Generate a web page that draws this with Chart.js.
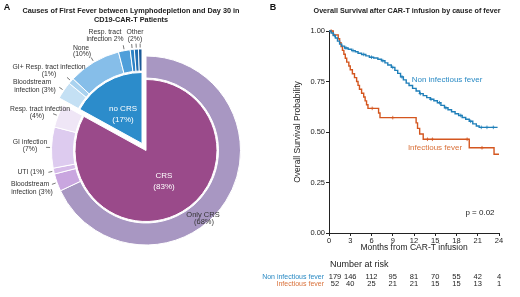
<!DOCTYPE html>
<html>
<head>
<meta charset="utf-8">
<script src="https://cdn.jsdelivr.net/npm/chart.js@4.4.0/dist/chart.umd.min.js"></script>
<style>
html, body { margin: 0; padding: 0; background: #fff; overflow: hidden; }
#wrap { position: relative; width: 520px; height: 297px; }
canvas { position: absolute; top: 0; }
</style>
</head>
<body>
<div id="wrap">
  <canvas id="pieBase" width="260" height="297" style="left:0"></canvas>
  <canvas id="pieTop" width="260" height="297" style="left:0"></canvas>
  <canvas id="km" width="260" height="297" style="left:260px"></canvas>
</div>
<script>
// ---- panel A data ----
var innerLabels = ['CRS', 'no CRS'];
var innerValues = [83, 17];
var innerGroup = [0, 1];           // 0 = CRS, 1 = no CRS
var outerLabels = ['Only CRS', 'Bloodstream infection', 'UTI', 'GI infection', 'Resp. tract infection',
                   'Bloodstream infection', 'GI+ Resp. tract infection', 'None', 'Resp. tract infection',
                   'Other', 'Other', 'Other'];
var outerValues = [68, 3, 1, 7, 4, 3, 1, 9, 2, 0.7, 0.7, 0.6];
var outerGroup = [0, 0, 0, 0, 0, 1, 1, 1, 1, 1, 1, 1];

// ---- panel B data ----
var nonInfTime = [0, 0.3, 0.6, 0.9, 1.2, 1.5, 1.8, 2.2, 2.7, 3.2, 3.7, 4.1, 4.6, 5.2, 5.7, 6.3, 6.9, 7.4, 7.9, 8.3,
                  8.8, 9.3, 9.7, 10.1, 10.5, 10.9, 11.3, 11.8, 12.3, 12.8, 13.3, 13.8, 14.3, 14.8, 15.3, 15.8, 16.3,
                  16.8, 17.3, 17.8, 18.3, 18.8, 19.3, 19.8, 20.3, 20.8, 21.2, 23.8];
var nonInfSurv = [1, 0.99, 0.978, 0.965, 0.95, 0.935, 0.925, 0.916, 0.91, 0.903, 0.897, 0.89, 0.884, 0.877, 0.87,
                  0.866, 0.86, 0.853, 0.842, 0.832, 0.82, 0.805, 0.79, 0.773, 0.758, 0.742, 0.73, 0.716, 0.703, 0.69,
                  0.68, 0.67, 0.662, 0.655, 0.645, 0.632, 0.62, 0.61, 0.6, 0.59, 0.582, 0.572, 0.563, 0.553, 0.54,
                  0.53, 0.523, 0.523];
var infTime = [0, 0.6, 1.3, 1.5, 1.7, 1.9, 2.1, 2.3, 2.5, 2.8, 3.0, 3.3, 3.6, 3.9, 4.1, 4.3, 4.6, 4.9, 5.1, 5.3,
               5.5, 7.0, 7.2, 12.3, 12.5, 12.8, 13.3, 19.8, 23.3, 24];
var infSurv = [1, 0.981, 0.962, 0.942, 0.923, 0.904, 0.885, 0.865, 0.846, 0.827, 0.808, 0.788, 0.769, 0.75, 0.731,
               0.712, 0.692, 0.673, 0.654, 0.635, 0.617, 0.594, 0.571, 0.545, 0.518, 0.49, 0.464, 0.422, 0.39, 0.39];
var nonInfCensor = [0.8, 2.4, 3.4, 4.9, 6.0, 7.6, 9.0, 10.3, 12.9, 14.4, 15.6, 16.5, 18.6, 20.0, 21.5, 22.3, 23.2];
var infCensor = [0.3, 6.1, 9.0, 13.9, 14.6, 19.5, 21.6];
var riskMonths = [0, 3, 6, 9, 12, 15, 18, 21, 24];
var riskNonInf = [179, 146, 112, 95, 81, 70, 55, 42, 4];
var riskInf = [52, 40, 25, 21, 21, 15, 15, 13, 1];

var FONT = '"Liberation Sans", Arial, sans-serif';
var BLUE = '#1f7fb9';
var ORANGE = '#d4561f';

var innerColors = ['#9a4a8a', '#2c8ccb'];
var outerColors = ['#a897c2', '#c9a6df', '#d6bbe9', '#ddcbef', '#efe6f6',
                   '#c4e0f4', '#a9d2ef', '#86bee9', '#4f9fda', '#2f83c6', '#236fb2', '#1a5a98'];

function survAt(times, surv, t) {
  var s = surv[0];
  for (var i = 0; i < times.length; i++) { if (times[i] <= t) s = surv[i]; }
  return s;
}

function pieConfig(group, pad, isTop) {
  var show = function (g, c) { return g === group ? c : 'rgba(0,0,0,0)'; };
  return {
    type: 'doughnut',
    data: {
      datasets: [
        { data: outerValues, weight: 22,
          backgroundColor: outerColors.map(function (c, i) { return show(outerGroup[i], c); }),
          borderColor: outerGroup.map(function (g) { return show(g, '#fff'); }) },
        { data: [1], weight: 1.5, backgroundColor: 'rgba(0,0,0,0)', borderColor: 'rgba(0,0,0,0)' },
        { data: innerValues, weight: 71,
          backgroundColor: innerColors.map(function (c, i) { return show(innerGroup[i], c); }),
          borderColor: innerGroup.map(function (g) { return show(g, '#fff'); }) }
      ]
    },
    options: {
      responsive: false, animation: false, events: [],
      cutout: 0, hoverOffset: 0,
      borderWidth: 1,
      layout: { padding: pad },
      plugins: { legend: { display: false }, tooltip: { enabled: false } }
    },
    plugins: [{
      id: 'leaders',
      afterDatasetsDraw: function (chart) {
        var ctx = chart.ctx;
        var arcs = chart.getDatasetMeta(0).data;
        ctx.save();
        ctx.strokeStyle = '#555';
        ctx.lineWidth = 0.8;
        arcs.forEach(function (arc, i) {
          if (outerGroup[i] !== group || i === 0) return;
          var mid = (arc.startAngle + arc.endAngle) / 2;
          var r0 = arc.outerRadius + 1.5, r1 = arc.outerRadius + 5.5;
          ctx.beginPath();
          ctx.moveTo(arc.x + Math.cos(mid) * r0, arc.y + Math.sin(mid) * r0);
          ctx.lineTo(arc.x + Math.cos(mid) * r1, arc.y + Math.sin(mid) * r1);
          ctx.stroke();
        });
        ctx.restore();
        if (isTop) drawPieText(ctx);
      }
    }]
  };
}

function txt(ctx, s, x, y, font, color, align) {
  ctx.font = font;
  ctx.fillStyle = color;
  ctx.textAlign = align || 'center';
  ctx.textBaseline = 'middle';
  ctx.fillText(s, x, y);
}

function drawPieText(ctx) {
  var lab = '6.8px ' + FONT, c = '#333';
  txt(ctx, 'A', 7, 8, 'bold 9px ' + FONT, '#111');
  txt(ctx, 'Causes of First Fever between Lymphodepletion and Day 30 in', 131, 11, 'bold 7.3px ' + FONT, '#222');
  txt(ctx, 'CD19-CAR-T Patients', 131, 19.5, 'bold 7.3px ' + FONT, '#222');
  txt(ctx, 'Resp. tract', 105, 31.7, lab, c);
  txt(ctx, 'infection 2%', 105, 38.7, lab, c);
  txt(ctx, 'Other', 135, 31.7, lab, c);
  txt(ctx, '(2%)', 135, 38.7, lab, c);
  txt(ctx, 'None', 81, 47.7, lab, c);
  txt(ctx, '(10%)', 82, 54.3, lab, c);
  txt(ctx, 'GI+ Resp. tract infection', 49, 66.7, lab, c);
  txt(ctx, '(1%)', 49, 74, lab, c);
  txt(ctx, 'Bloodstream', 32, 81.7, lab, c);
  txt(ctx, 'infection (3%)', 35, 90, lab, c);
  txt(ctx, 'Resp. tract infection', 40, 109, lab, c);
  txt(ctx, '(4%)', 37, 115.7, lab, c);
  txt(ctx, 'GI infection', 30, 141.7, lab, c);
  txt(ctx, '(7%)', 30, 149, lab, c);
  txt(ctx, 'UTI (1%)', 31, 171.7, lab, c);
  txt(ctx, 'Bloodstream', 30, 184.3, lab, c);
  txt(ctx, 'infection (3%)', 32, 191.7, lab, c);
  txt(ctx, 'no CRS', 123, 108.3, '8px ' + FONT, '#fff');
  txt(ctx, '(17%)', 123, 119.3, '8px ' + FONT, '#fff');
  txt(ctx, 'CRS', 164, 176, '8px ' + FONT, '#fff');
  txt(ctx, '(83%)', 164, 186.7, '8px ' + FONT, '#fff');
  txt(ctx, 'Only CRS', 203, 215, '7.5px ' + FONT, '#333');
  txt(ctx, '(68%)', 204, 221.7, '7.5px ' + FONT, '#333');
}

// CRS part, centred at (146,150.5); no-CRS part exploded by (-4,-7)
new Chart(document.getElementById('pieBase'), pieConfig(0, { left: 51, right: 19, top: 55.5, bottom: 51.5 }, false));
new Chart(document.getElementById('pieTop'), pieConfig(1, { left: 47, right: 23, top: 48.5, bottom: 58.5 }, true));

// ---- panel B ----
var kmText = {
  id: 'kmText',
  afterDraw: function (chart) {
    var ctx = chart.ctx;
    var xs = chart.scales.x;
    txt(ctx, 'B', 13, 8, 'bold 9px ' + FONT, '#111');
    txt(ctx, 'Overall Survival after CAR-T infusion by cause of fever', 147, 11, 'bold 7.2px ' + FONT, '#222');
    txt(ctx, 'Non infectious fever', 187, 80, '8px ' + FONT, '#2a8ac4');
    txt(ctx, 'Infectious fever', 175, 148, '8px ' + FONT, '#d9713a');
    txt(ctx, 'p = 0.02', 220, 213, '8px ' + FONT, '#222');
    txt(ctx, 'Number at risk', 70, 265, '9px ' + FONT, '#222', 'left');
    txt(ctx, 'Non infectious fever', 64, 276.7, '7px ' + FONT, '#2a8ac4', 'right');
    txt(ctx, 'Infectious fever', 64, 284.3, '7px ' + FONT, '#d9713a', 'right');
    riskMonths.forEach(function (m, i) {
      var x = xs.getPixelForValue(m) + (i === 0 ? 6 : 0);
      txt(ctx, String(riskNonInf[i]), x, 276.7, '7.5px ' + FONT, '#222');
      txt(ctx, String(riskInf[i]), x, 284.3, '7.5px ' + FONT, '#222');
    });
  }
};

function pts(times, surv) {
  return times.map(function (t, i) { return { x: t, y: surv[i] }; });
}
function cens(ct, times, surv) {
  return ct.map(function (t) { return { x: t, y: survAt(times, surv, t) }; });
}

var tickFont = { family: FONT, size: 7.5 };
new Chart(document.getElementById('km'), {
  type: 'line',
  data: {
    datasets: [
      { data: pts(nonInfTime, nonInfSurv), borderColor: BLUE, borderWidth: 1.4, stepped: 'before',
        pointRadius: 0, fill: false, clip: 3 },
      { data: pts(infTime, infSurv), borderColor: ORANGE, borderWidth: 1.4, stepped: 'before',
        pointRadius: 0, fill: false, clip: 3 },
      { data: cens(nonInfCensor, nonInfTime, nonInfSurv), showLine: false, pointStyle: 'cross',
        pointRadius: 1.8, borderColor: BLUE, borderWidth: 0.8, clip: 3 },
      { data: cens(infCensor, infTime, infSurv), showLine: false, pointStyle: 'cross',
        pointRadius: 1.8, borderColor: ORANGE, borderWidth: 0.8, clip: 3 }
    ]
  },
  options: {
    responsive: false, animation: false, events: [],
    layout: { padding: { left: 29, right: 21, top: 31, bottom: 40 } },
    plugins: { legend: { display: false }, tooltip: { enabled: false } },
    scales: {
      x: {
        type: 'linear', min: 0, max: 24,
        ticks: { stepSize: 3, padding: 0, font: tickFont, color: '#222', maxRotation: 0, autoSkip: false },
        grid: { drawOnChartArea: false, tickLength: 3, color: '#222' },
        border: { color: '#222', width: 1 },
        title: { display: true, text: 'Months from CAR-T infusion', color: '#222',
                 font: { family: FONT, size: 8.5 }, padding: { top: 2, bottom: 4 } },
        afterFit: function (s) { s.height = 24; }
      },
      y: {
        min: 0, max: 1,
        ticks: { stepSize: 0.25, padding: 1, font: tickFont, color: '#222',
                 callback: function (v) { return v.toFixed(2); } },
        grid: { drawOnChartArea: false, tickLength: 3, color: '#222' },
        border: { color: '#222', width: 1 },
        title: { display: true, text: 'Overall Survival Probability', color: '#222',
                 font: { family: FONT, size: 8.5 }, padding: { top: 4, bottom: 4 } },
        afterFit: function (s) { s.width = 40; }
      }
    }
  },
  plugins: [kmText]
});
</script>
</body>
</html>
